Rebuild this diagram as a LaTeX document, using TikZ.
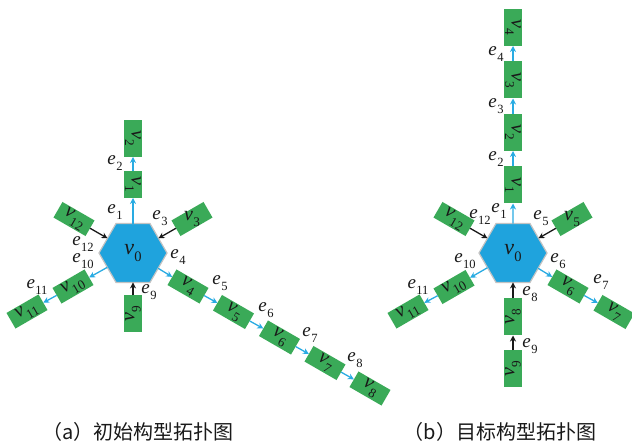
\documentclass[tikz,border=0pt]{standalone}
\usepackage{fontspec}
\setmainfont{Liberation Serif}
\newfontfamily\cjk{Noto Sans CJK SC}
\usetikzlibrary{shapes.geometric,arrows.meta}
\definecolor{boxgreen}{RGB}{58,170,88}
\definecolor{hexblue}{RGB}{31,163,221}
\definecolor{hexgray}{RGB}{195,195,195}
\definecolor{arrowblue}{RGB}{41,171,226}
\newcommand\lbl[2]{\textit{#1}\kern0.02em\raisebox{-0.32em}{\fontsize{0.66\fsz}{0.66\fsz}\selectfont #2}}
\newdimen\fsz
\tikzset{
  every node/.style={text=black!90},
  fs/.style={font={\fsz=#1pt\fontsize{\fsz}{\fsz}\selectfont}},
  box/.style={fill=boxgreen, minimum width=37pt, minimum height=18pt, inner sep=0pt, outer sep=0pt, fs=20},
  hexa/.style={regular polygon, regular polygon sides=6, minimum size=68pt, inner sep=0pt, outer sep=0pt, fill=hexblue, draw=hexgray, line width=1.2pt, fs=22},
  barrow/.style={draw=arrowblue, line width=1.3pt, -{Stealth[length=6pt,width=6pt]}},
  karrow/.style={draw=black!90, line width=1.3pt, -{Stealth[length=6pt,width=6pt]}},
  lab/.style={inner sep=0pt, fs=19},
  captext/.style={font=\cjk\fontsize{20}{20}\selectfont, inner sep=0pt}
}
\begin{document}
\begin{tikzpicture}[x=1pt,y=-1pt]
\useasboundingbox (0,0) rectangle (632,443);
% ---------------- left (a) ----------------
\node[hexa] (L0) at (133,253) {\lbl{v}{0}};
\node[box, rotate=-90, minimum width=27pt] (Lv1) at (133,184.5) {\lbl{v}{1}};
\node[box, rotate=-90] (Lv2) at (133,138.5) {\lbl{v}{2}};
\node[box, rotate=30] (Lv3) at (192,219) {};
\node[fs=20] (Lv3t) at (Lv3) {\lbl{v}{3}};
\node[box, rotate=-30] (Lv12) at (74,219) {\lbl{v}{12}};
\node[box, rotate=-30] (Lv4) at (188,286.5) {\lbl{v}{4}};
\node[box, rotate=-30] (Lv5) at (233.5,312) {\lbl{v}{5}};
\node[box, rotate=-30] (Lv6) at (279.5,337.5) {\lbl{v}{6}};
\node[box, rotate=-30] (Lv7) at (325,363) {\lbl{v}{7}};
\node[box, rotate=-30] (Lv8) at (370,388.5) {\lbl{v}{8}};
\node[box, rotate=30] (Lv10) at (73,286.5) {\lbl{v}{10}};
\node[box, rotate=30] (Lv11) at (27,311.5) {\lbl{v}{11}};
\node[box, rotate=90] (Lv9) at (133,314) {\lbl{v}{9}};

\draw[barrow] (L0) -- (Lv1);
\draw[barrow] (Lv1) -- (Lv2);
\draw[karrow] (Lv3) -- (L0);
\draw[karrow] (Lv12) -- (L0);
\draw[barrow] (L0) -- (Lv4);
\draw[barrow] (Lv4) -- (Lv5);
\draw[barrow] (Lv5) -- (Lv6);
\draw[barrow] (Lv6) -- (Lv7);
\draw[barrow] (Lv7) -- (Lv8);
\draw[barrow] (L0) -- (Lv10);
\draw[barrow] (Lv10) -- (Lv11);
\draw[karrow] (Lv9) -- (L0);

\node[lab] (Le1) at (115,212) {\lbl{e}{1}};
\node[lab] (Le2) at (115,163) {\lbl{e}{2}};
\node[lab] (Le3) at (160,218) {\lbl{e}{3}};
\node[lab] (Le12) at (83,244) {\lbl{e}{12}};
\node[lab] (Le10) at (83,261) {\lbl{e}{10}};
\node[lab] (Le4) at (178,257) {\lbl{e}{4}};
\node[lab] (Le9) at (149,292) {\lbl{e}{9}};
\node[lab] (Le11) at (37,287) {\lbl{e}{11}};
\node[lab] (Le5) at (220,283) {\lbl{e}{5}};
\node[lab] (Le6) at (266,310) {\lbl{e}{6}};
\node[lab] (Le7) at (310,335) {\lbl{e}{7}};
\node[lab] (Le8) at (355,360) {\lbl{e}{8}};

% ---------------- right (b) ----------------
\node[hexa] (R0) at (513,253) {\lbl{v}{0}};
\node[box, rotate=-90] (Rv1) at (513,185) {\lbl{v}{1}};
\node[box, rotate=-90] (Rv2) at (513,132.5) {\lbl{v}{2}};
\node[box, rotate=-90] (Rv3) at (513,80) {\lbl{v}{3}};
\node[box, rotate=-90] (Rv4) at (513,27.5) {\lbl{v}{4}};
\node[box, rotate=-30] (Rv12) at (454,219) {\lbl{v}{12}};
\node[box, rotate=30] (Rv5) at (572,219) {};
\node[fs=20] (Rv5t) at (Rv5) {\lbl{v}{5}};
\node[box, rotate=-30] (Rv6) at (568,286.5) {\lbl{v}{6}};
\node[box, rotate=-30] (Rv7) at (614,312) {\lbl{v}{7}};
\node[box, rotate=30] (Rv10) at (454,287) {\lbl{v}{10}};
\node[box, rotate=30] (Rv11) at (408,311.5) {\lbl{v}{11}};
\node[box, rotate=90] (Rv8) at (513,317) {\lbl{v}{8}};
\node[box, rotate=90] (Rv9) at (513,369) {\lbl{v}{9}};

\draw[barrow] (R0) -- (Rv1);
\draw[barrow] (Rv1) -- (Rv2);
\draw[barrow] (Rv2) -- (Rv3);
\draw[barrow] (Rv3) -- (Rv4);
\draw[karrow] (Rv12) -- (R0);
\draw[karrow] (Rv5) -- (R0);
\draw[barrow] (R0) -- (Rv6);
\draw[barrow] (Rv6) -- (Rv7);
\draw[barrow] (R0) -- (Rv10);
\draw[barrow] (Rv10) -- (Rv11);
\draw[karrow] (Rv8) -- (R0);
\draw[karrow] (Rv9) -- (Rv8);

\node[lab] (Re4) at (496,54) {\lbl{e}{4}};
\node[lab] (Re3) at (496,106) {\lbl{e}{3}};
\node[lab] (Re2) at (496,159) {\lbl{e}{2}};
\node[lab] (Re1) at (499,211) {\lbl{e}{1}};
\node[lab] (Re12) at (480,217) {\lbl{e}{12}};
\node[lab] (Re5) at (541,218) {\lbl{e}{5}};
\node[lab] (Re10) at (465,261) {\lbl{e}{10}};
\node[lab] (Re6) at (558,261) {\lbl{e}{6}};
\node[lab] (Re11) at (418,287) {\lbl{e}{11}};
\node[lab] (Re7) at (601,282) {\lbl{e}{7}};
\node[lab] (Re8) at (530,294) {\lbl{e}{8}};
\node[lab] (Re9) at (530,346) {\lbl{e}{9}};

% captions
\node[captext] (capa) at (138,432) {（a）初始构型拓扑图};
\node[captext] (capb) at (500,432) {（b）目标构型拓扑图};
\end{tikzpicture}
\end{document}
